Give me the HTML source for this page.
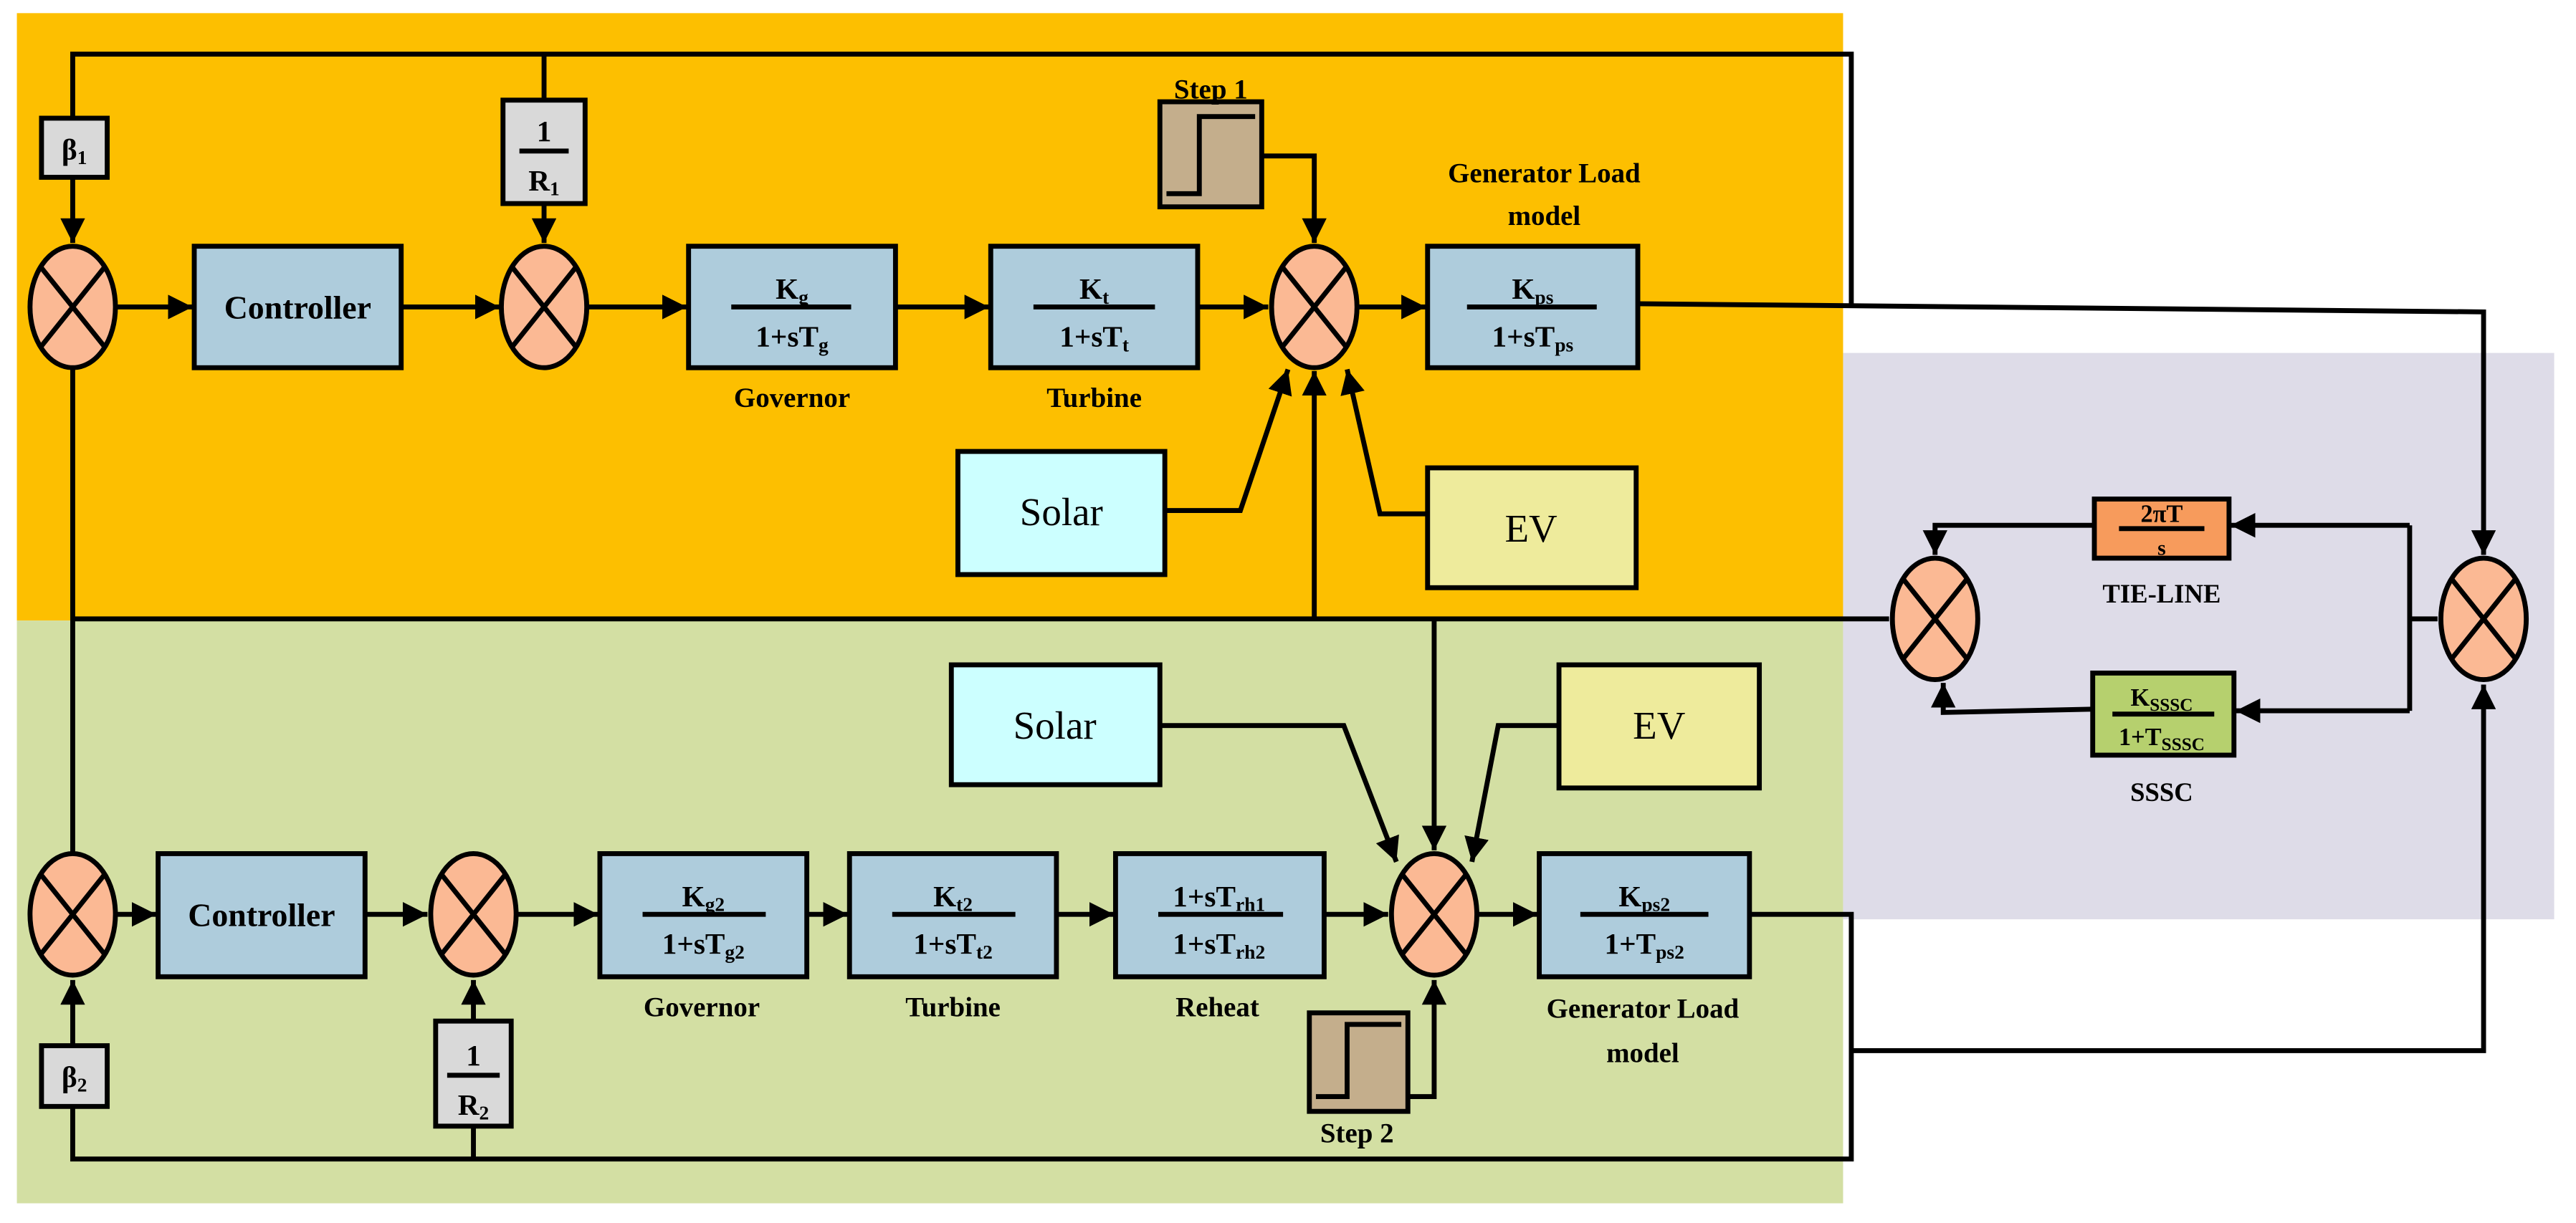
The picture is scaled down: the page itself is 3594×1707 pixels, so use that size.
<!DOCTYPE html>
<html><head><meta charset="utf-8"><style>html,body{margin:0;padding:0;background:#fff}svg{display:block}</style></head>
<body>
<svg xmlns="http://www.w3.org/2000/svg" width="3594" height="1707" viewBox="0 0 1568 745" font-family="Liberation Serif, serif" font-weight="bold">
<defs>
<marker id="a" viewBox="0 0 10 10" refX="10" refY="5" markerWidth="5" markerHeight="5" orient="auto" markerUnits="strokeWidth"><path d="M0,0 L10,5 L0,10 z" fill="#000"/></marker>
<g id="c"><ellipse cx="0" cy="0" rx="26" ry="37"/><line x1="-20" y1="-25" x2="20" y2="25"/><line x1="20" y1="-25" x2="-20" y2="25"/></g>
</defs>
<rect x="10" y="8" width="1112" height="370" fill="#FDBF00"/>
<rect x="10" y="378" width="1112" height="355" fill="#D3DFA3"/>
<rect x="1122" y="215" width="433" height="345" fill="#DEDCE8"/>
<g stroke="#000" stroke-width="3" fill="none">
<polyline points="44,72 44,33 1127,33 1127,185"/>
<line x1="331" y1="33" x2="331" y2="61"/>
<line x1="44" y1="108" x2="44" y2="148" marker-end="url(#a)"/>
<line x1="331" y1="124" x2="331" y2="148" marker-end="url(#a)"/>
<line x1="70" y1="187" x2="117" y2="187" marker-end="url(#a)"/>
<line x1="244" y1="187" x2="304" y2="187" marker-end="url(#a)"/>
<line x1="357" y1="187" x2="418" y2="187" marker-end="url(#a)"/>
<line x1="545" y1="187" x2="602" y2="187" marker-end="url(#a)"/>
<line x1="729" y1="187" x2="772" y2="187" marker-end="url(#a)"/>
<line x1="826" y1="187" x2="868" y2="187" marker-end="url(#a)"/>
<polyline points="768,95 800,95 800,148" marker-end="url(#a)"/>
<polyline points="709,311 755,311 784,225" marker-end="url(#a)"/>
<line x1="800" y1="377" x2="800" y2="226" marker-end="url(#a)"/>
<polyline points="869,313 840,313 820,225" marker-end="url(#a)"/>
<polyline points="997,185 1512,190 1512,338" marker-end="url(#a)"/>
<line x1="44" y1="225" x2="44" y2="519"/>
<line x1="44" y1="377" x2="1150" y2="377"/>
<line x1="873" y1="377" x2="873" y2="518" marker-end="url(#a)"/>
<line x1="70" y1="557" x2="95" y2="557" marker-end="url(#a)"/>
<line x1="222" y1="557" x2="260" y2="557" marker-end="url(#a)"/>
<line x1="314" y1="557" x2="364" y2="557" marker-end="url(#a)"/>
<line x1="491" y1="557" x2="516" y2="557" marker-end="url(#a)"/>
<line x1="643" y1="557" x2="678" y2="557" marker-end="url(#a)"/>
<line x1="806" y1="557" x2="845" y2="557" marker-end="url(#a)"/>
<line x1="900" y1="557" x2="936" y2="557" marker-end="url(#a)"/>
<polyline points="706,442 818,442 850,525" marker-end="url(#a)"/>
<polyline points="949,442 912,442 896,525" marker-end="url(#a)"/>
<polyline points="857,668 873,668 873,597" marker-end="url(#a)"/>
<polyline points="44,637 44,597" marker-end="url(#a)"/>
<polyline points="288,622 288,597" marker-end="url(#a)"/>
<polyline points="44,674 44,706 1127,706 1127,557 1065,557"/>
<line x1="288" y1="686" x2="288" y2="706"/>
<polyline points="1127,640 1512,640 1512,417" marker-end="url(#a)"/>
<line x1="1484" y1="377" x2="1467" y2="377"/>
<line x1="1467" y1="320" x2="1467" y2="433"/>
<line x1="1467" y1="320" x2="1358" y2="320" marker-end="url(#a)"/>
<line x1="1467" y1="433" x2="1361" y2="433" marker-end="url(#a)"/>
<polyline points="1275,320 1178,320 1178,338" marker-end="url(#a)"/>
<polyline points="1274,432 1183,434 1183,416" marker-end="url(#a)"/>
</g>
<g stroke="#000" stroke-width="3" fill="#FBB994">
<use href="#c" x="44" y="187"/><use href="#c" x="331" y="187"/><use href="#c" x="800" y="187"/>
<use href="#c" x="44" y="557"/><use href="#c" x="288" y="557"/><use href="#c" x="873" y="557"/>
<use href="#c" x="1178" y="377"/><use href="#c" x="1512" y="377"/>
</g>
<g stroke="#000" stroke-width="3">
<rect x="118" y="150" width="126" height="74" fill="#AECCDC"/>
<rect x="419" y="150" width="126" height="74" fill="#AECCDC"/>
<rect x="603" y="150" width="126" height="74" fill="#AECCDC"/>
<rect x="869" y="150" width="128" height="74" fill="#AECCDC"/>
<rect x="96" y="520" width="126" height="75" fill="#AECCDC"/>
<rect x="365" y="520" width="126" height="75" fill="#AECCDC"/>
<rect x="517" y="520" width="126" height="75" fill="#AECCDC"/>
<rect x="679" y="520" width="127" height="75" fill="#AECCDC"/>
<rect x="937" y="520" width="128" height="75" fill="#AECCDC"/>
<rect x="25" y="72" width="40" height="36" fill="#D9D9D9"/>
<rect x="306" y="61" width="50" height="63" fill="#D9D9D9"/>
<rect x="25" y="637" width="40" height="37" fill="#D9D9D9"/>
<rect x="265" y="622" width="46" height="64" fill="#D9D9D9"/>
<rect x="706" y="62" width="62" height="64" fill="#C4AE8C"/>
<rect x="797" y="617" width="60" height="60" fill="#C4AE8C"/>
<rect x="583" y="275" width="126" height="75" fill="#CCFFFF"/>
<rect x="579" y="405" width="127" height="73" fill="#CCFFFF"/>
<rect x="869" y="285" width="127" height="73" fill="#EEEB9C"/>
<rect x="949" y="405" width="122" height="75" fill="#EEEB9C"/>
<rect x="1275" y="304" width="82" height="36" fill="#F79B5C"/>
<rect x="1274" y="410" width="86" height="50" fill="#B6D06E"/>
</g>
<g stroke="#000" stroke-width="3" fill="none">
<polyline points="710,118 730,118 730,71 764,71"/>
<polyline points="801,668 820,668 820,624 853,624"/>
<line x1="316" y1="92" x2="346" y2="92"/>
<line x1="272" y1="655" x2="304" y2="655"/>
<line x1="445" y1="187" x2="518" y2="187"/>
<line x1="629" y1="187" x2="703" y2="187"/>
<line x1="893" y1="187" x2="972" y2="187"/>
<line x1="391" y1="557" x2="466" y2="557"/>
<line x1="543" y1="557" x2="618" y2="557"/>
<line x1="705" y1="557" x2="781" y2="557"/>
<line x1="962" y1="557" x2="1040" y2="557"/>
<line x1="1290" y1="322" x2="1342" y2="322"/>
<line x1="1286" y1="435" x2="1348" y2="435"/>
</g>
<g fill="#000" text-anchor="middle" font-size="20">
<text x="181" y="194">Controller</text>
<text x="159" y="564">Controller</text>
<text x="45" y="97" font-size="18">β<tspan font-size="12" dy="3">1</tspan></text>
<text x="45" y="662" font-size="18">β<tspan font-size="12" dy="3">2</tspan></text>
<text x="331" y="86" font-size="18">1</text><text x="331" y="116" font-size="18">R<tspan font-size="12" dy="3">1</tspan></text>
<text x="288" y="649" font-size="18">1</text><text x="288" y="679" font-size="18">R<tspan font-size="12" dy="3">2</tspan></text>
<text x="737" y="60" font-size="17">Step 1</text>
<text x="826" y="696" font-size="17">Step 2</text>
<text x="940" y="111" font-size="17">Generator Load</text>
<text x="940" y="137" font-size="17">model</text>
<text x="1000" y="620" font-size="17">Generator Load</text>
<text x="1000" y="647" font-size="17">model</text>
<text x="482" y="248" font-size="17">Governor</text>
<text x="666" y="248" font-size="17">Turbine</text>
<text x="427" y="619" font-size="17">Governor</text>
<text x="580" y="619" font-size="17">Turbine</text>
<text x="741" y="619" font-size="17">Reheat</text>
<text x="1316" y="367" font-size="16">TIE-LINE</text>
<text x="1316" y="488" font-size="16">SSSC</text>
<g font-weight="normal" font-size="24">
<text x="646" y="320">Solar</text><text x="642" y="450">Solar</text>
<text x="932" y="330">EV</text><text x="1010" y="450">EV</text>
</g>
<g font-size="18">
<text x="482" y="182">K<tspan font-size="12" dy="3">g</tspan></text>
<text x="482" y="211">1+sT<tspan font-size="12" dy="3">g</tspan></text>
<text x="666" y="182">K<tspan font-size="12" dy="3">t</tspan></text>
<text x="666" y="211">1+sT<tspan font-size="12" dy="3">t</tspan></text>
<text x="933" y="182">K<tspan font-size="12" dy="3">ps</tspan></text>
<text x="933" y="211">1+sT<tspan font-size="12" dy="3">ps</tspan></text>
<text x="428" y="552">K<tspan font-size="12" dy="3">g2</tspan></text>
<text x="428" y="581">1+sT<tspan font-size="12" dy="3">g2</tspan></text>
<text x="580" y="552">K<tspan font-size="12" dy="3">t2</tspan></text>
<text x="580" y="581">1+sT<tspan font-size="12" dy="3">t2</tspan></text>
<text x="742" y="552">1+sT<tspan font-size="12" dy="3">rh1</tspan></text>
<text x="742" y="581">1+sT<tspan font-size="12" dy="3">rh2</tspan></text>
<text x="1001" y="552">K<tspan font-size="12" dy="3">ps2</tspan></text>
<text x="1001" y="581">1+T<tspan font-size="12" dy="3">ps2</tspan></text>
<text x="1316" y="318" font-size="15">2πT</text>
<text x="1316" y="338" font-size="13">s</text>
<text x="1316" y="430" font-size="15">K<tspan font-size="11" dy="3">SSSC</tspan></text>
<text x="1316" y="454" font-size="15">1+T<tspan font-size="11" dy="3">SSSC</tspan></text>
</g>
</g>
</svg>
</body></html>
